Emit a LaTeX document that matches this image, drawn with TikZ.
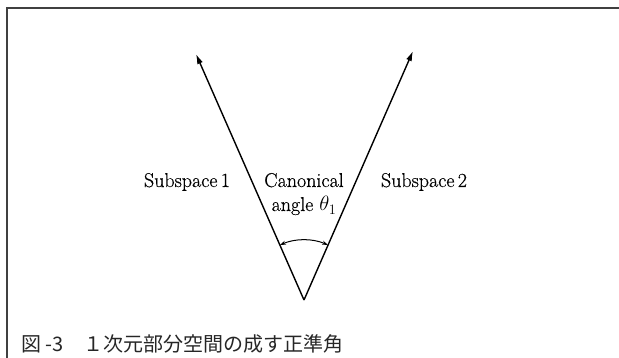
\documentclass[tikz,border=0pt]{standalone}
\usepackage{fontspec}
\usepackage{xcolor}
\newfontfamily\jpfont{Noto Sans CJK JP}
\newfontfamily\lblfont{Latin Modern Roman}[FakeBold=0.4]
\usetikzlibrary{arrows.meta}

\begin{document}
\begin{tikzpicture}[
  x=1pt, y=1pt,
  font=\lblfont\fontsize{20}{24}\selectfont,
  vec/.style={-{Latex[length=10pt,width=6pt]}, line width=1.4pt},
  lbl/.style={inner sep=0pt, anchor=base, align=center},
  capt/.style={inner sep=0pt, anchor=base west, font=\jpfont\fontsize{20}{20}\selectfont, text=black!85}
]
\useasboundingbox (0,0) rectangle (619,358);
\draw[black!75, line width=1.6pt] (619,350) -- (7,350) -- (7,0);

\coordinate (origin) at (304,58);
\coordinate (tip1) at (196,304);
\coordinate (tip2) at (413,307);
\draw[vec] (origin) -- (tip1);
\draw[vec] (origin) -- (tip2);
\draw[{Stealth[length=6pt,width=4pt]}-{Stealth[length=6pt,width=4pt]}, line width=1pt]
  ([shift={(66.4:60pt)}]origin) arc[start angle=66.4, end angle=113.7, radius=60pt];

\node[lbl] (sub1) at (187,171) {Subspace\,1};
\node[lbl] (canon) at (304,147) {Canonical\\angle $\theta_1$};
\node[lbl] (sub2) at (424,171) {Subspace\,2};

\node[capt] (caption) at (21,6) {図 -3　１次元部分空間の成す正準角};
\end{tikzpicture}
\end{document}
